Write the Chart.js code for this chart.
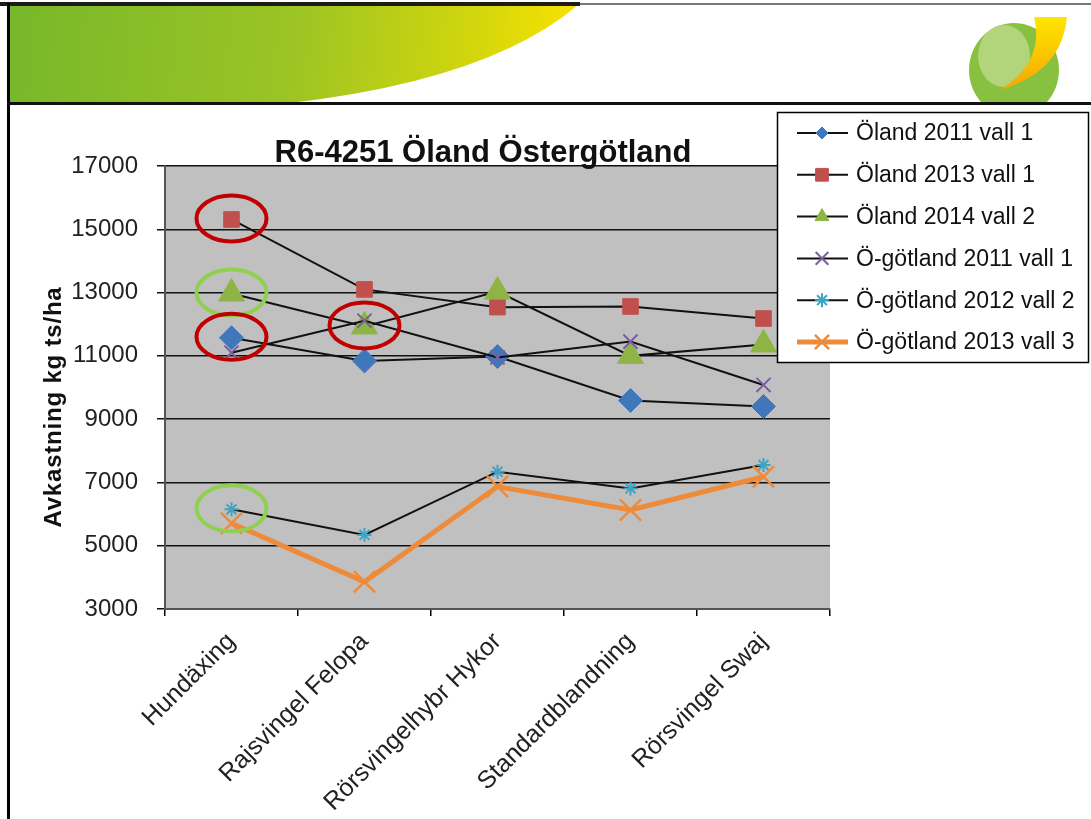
<!DOCTYPE html>
<html>
<head>
<meta charset="utf-8">
<script src="https://cdn.jsdelivr.net/npm/chart.js@4.4.1/dist/chart.umd.min.js"></script>
<style>
  body { margin: 0; background: #fff; }
  #wrap { position: relative; width: 1091px; height: 819px; overflow: hidden; }
  #deco, #chart { position: absolute; left: 0; top: 0; }
</style>
</head>
<body>
<div id="wrap">
  <!-- slide background: banner, frame lines, logo -->
  <svg id="deco" width="1091" height="819">
    <defs>
      <linearGradient id="band" x1="0" y1="0" x2="590" y2="60" gradientUnits="userSpaceOnUse">
        <stop offset="0" stop-color="#76b72b"/>
        <stop offset="0.5" stop-color="#9cc424"/>
        <stop offset="0.8" stop-color="#d2d60c"/>
        <stop offset="1" stop-color="#ffe300"/>
      </linearGradient>
      <linearGradient id="swoosh" x1="0" y1="0" x2="0" y2="1">
        <stop offset="0" stop-color="#ffe600"/>
        <stop offset="1" stop-color="#f7a600"/>
      </linearGradient>
      <clipPath id="top"><rect x="0" y="0" width="1091" height="103"/></clipPath>
    </defs>
    <path d="M8 5 H578 Q 490 80 290 103 H8 Z" fill="url(#band)"/>
    <rect x="0" y="2" width="580" height="4" fill="#1b1b1b"/>
    <rect x="580" y="3" width="511" height="2" fill="#777"/>
    <g clip-path="url(#top)">
      <ellipse cx="1014" cy="70" rx="45" ry="47" fill="#88c040"/>
      <ellipse cx="1004" cy="56" rx="26" ry="31" fill="#b2d47a"/>
      <path d="M1034 17 H1067 Q1062 72 1000 90 Q1045 62 1034 17 Z" fill="url(#swoosh)"/>
    </g>
    <rect x="7" y="3" width="3" height="816" fill="#000"/>
    <rect x="7" y="102" width="1084" height="3" fill="#111"/>
  </svg>
  <canvas id="chart" width="1091" height="819"></canvas>
</div>
<script>
// categories on the x axis
const categories = ['Hundäxing', 'Rajsvingel Felopa', 'Rörsvingelhybr Hykor', 'Standardblandning', 'Rörsvingel Swaj'];

// series (kg ts/ha)
const seriesNames = ['Öland 2011 vall 1', 'Öland 2013 vall 1', 'Öland 2014 vall 2',
  'Ö-götland 2011 vall 1', 'Ö-götland 2012 vall 2', 'Ö-götland 2013 vall 3'];
const oland2011 = [11570, 10840, 10980, 9590, 9400];
const oland2013 = [15310, 13100, 12540, 12560, 12180];
const oland2014 = [12970, 11930, 13030, 11000, 11360];
const ogotland2011 = [11100, 12110, 10950, 11450, 10080];
const ogotland2012 = [6150, 5340, 7340, 6810, 7550];
const ogotland2013 = [5710, 3860, 6870, 6130, 7180];

// y axis
const yMin = 3000;
const yMax = 17000;
const yStep = 2000;

// hand drawn rings on the slide: which series / category they circle
const ringSeries = [1, 2, 0, 2, 4];
const ringCategory = [0, 0, 0, 1, 0];
const ringColor = ['#c00000', '#8fd14f', '#c00000', '#c00000', '#8fd14f'];

Chart.defaults.font.family = "'Liberation Sans', Arial, sans-serif";
Chart.defaults.color = '#222';

const allValues = [oland2011, oland2013, oland2014, ogotland2011, ogotland2012, ogotland2013];
const markerStyle = [
  { pointStyle: 'rectRot', color: '#4077bb', radius: 12, legendRadius: 6, width: 1 },
  { pointStyle: 'rect', color: '#c0504d', radius: 11, legendRadius: 9, width: 1 },
  { pointStyle: 'triangle', color: '#8fb446', radius: 15, legendRadius: 8, width: 1 },
  { pointStyle: 'crossRot', color: '#7a5fa0', radius: 10, legendRadius: 9, width: 2 },
  { pointStyle: 'star', color: '#3fa4c4', radius: 7, legendRadius: 7, width: 2 },
  { pointStyle: 'crossRot', color: '#ee8b3a', radius: 15, legendRadius: 10, width: 2.5 }
];

const datasets = allValues.map((vals, i) => {
  const m = markerStyle[i];
  const orange = i === 5;
  return {
    label: seriesNames[i],
    data: vals,
    borderColor: orange ? '#ee8b3a' : '#111',
    borderWidth: orange ? 5 : 2,
    tension: 0,
    pointStyle: m.pointStyle,
    pointRadius: m.radius,
    pointBackgroundColor: m.color,
    pointBorderColor: m.color,
    pointBorderWidth: m.width,
    legendRadius: m.legendRadius,
    order: 10 - i
  };
});

const slideExtras = {
  id: 'slideExtras',
  beforeDraw(chart) {
    const { ctx, chartArea: a } = chart;
    ctx.save();
    ctx.fillStyle = '#c0c0c0';
    ctx.fillRect(a.left, a.top, a.right - a.left, a.bottom - a.top);
    ctx.restore();
  },
  afterDraw(chart) {
    const ctx = chart.ctx;
    ctx.save();

    // rings
    ctx.lineWidth = 4;
    ringSeries.forEach((s, k) => {
      const pt = chart.getDatasetMeta(s).data[ringCategory[k]];
      ctx.strokeStyle = ringColor[k];
      ctx.beginPath();
      ctx.ellipse(pt.x, pt.y - 1, 35, 23, 0, 0, Math.PI * 2);
      ctx.stroke();
    });

    // chart title
    ctx.fillStyle = '#111';
    ctx.font = "bold 31px 'Liberation Sans', Arial, sans-serif";
    ctx.textAlign = 'center';
    ctx.textBaseline = 'alphabetic';
    ctx.fillText('R6-4251 Öland Östergötland', 483, 162);

    // y axis title
    ctx.save();
    ctx.translate(61, 407);
    ctx.rotate(-Math.PI / 2);
    ctx.font = "bold 24px 'Liberation Sans', Arial, sans-serif";
    ctx.letterSpacing = '0.8px';
    ctx.fillText('Avkastning kg ts/ha', 0, 0);
    ctx.restore();

    // legend box
    ctx.fillStyle = '#fff';
    ctx.fillRect(777, 112, 312, 251);
    ctx.strokeStyle = '#000';
    ctx.lineWidth = 1.5;
    ctx.strokeRect(777.5, 112.5, 311, 250);

    ctx.font = "23px 'Liberation Sans', Arial, sans-serif";
    ctx.textAlign = 'left';
    ctx.textBaseline = 'middle';
    chart.data.datasets.forEach((ds, i) => {
      const y = 133 + i * 41.8;
      ctx.strokeStyle = ds.borderColor;
      ctx.lineWidth = ds.borderWidth;
      ctx.beginPath();
      ctx.moveTo(797, y);
      ctx.lineTo(848, y);
      ctx.stroke();
      ctx.fillStyle = ds.pointBackgroundColor;
      ctx.strokeStyle = ds.pointBorderColor;
      ctx.lineWidth = ds.pointBorderWidth;
      Chart.helpers.drawPoint(ctx, { pointStyle: ds.pointStyle, radius: ds.legendRadius, borderWidth: ds.pointBorderWidth, rotation: 0 }, 822, y);
      ctx.fillStyle = '#111';
      ctx.fillText(ds.label, 856, y + 1);
    });
    ctx.restore();
  }
};

new Chart(document.getElementById('chart').getContext('2d'), {
  type: 'line',
  data: { labels: categories, datasets: datasets },
  options: {
    responsive: false,
    animation: false,
    layout: { padding: { top: 166, left: 20, right: 261, bottom: 0 } },
    plugins: {
      legend: { display: false },
      tooltip: { enabled: false },
      title: { display: false }
    },
    scales: {
      x: {
        offset: true,
        grid: { offset: true, drawOnChartArea: false, drawTicks: true, tickLength: 7, color: '#000', lineWidth: 1.5 },
        border: { color: '#555', width: 2 },
        ticks: { font: { size: 25 }, color: '#222', minRotation: 45, maxRotation: 45, autoSkip: false, padding: 11 },
        afterFit(scale) { scale.height = 210; }
      },
      y: {
        min: yMin,
        max: yMax,
        ticks: { stepSize: yStep, font: { size: 24 }, color: '#222', padding: 19, callback: v => String(v) },
        grid: { color: '#111', lineWidth: 1.5, tickLength: 8 },
        border: { color: '#555', width: 2 },
        afterFit(scale) { scale.width = 145; }
      }
    }
  },
  plugins: [slideExtras]
});
</script>
</body>
</html>
